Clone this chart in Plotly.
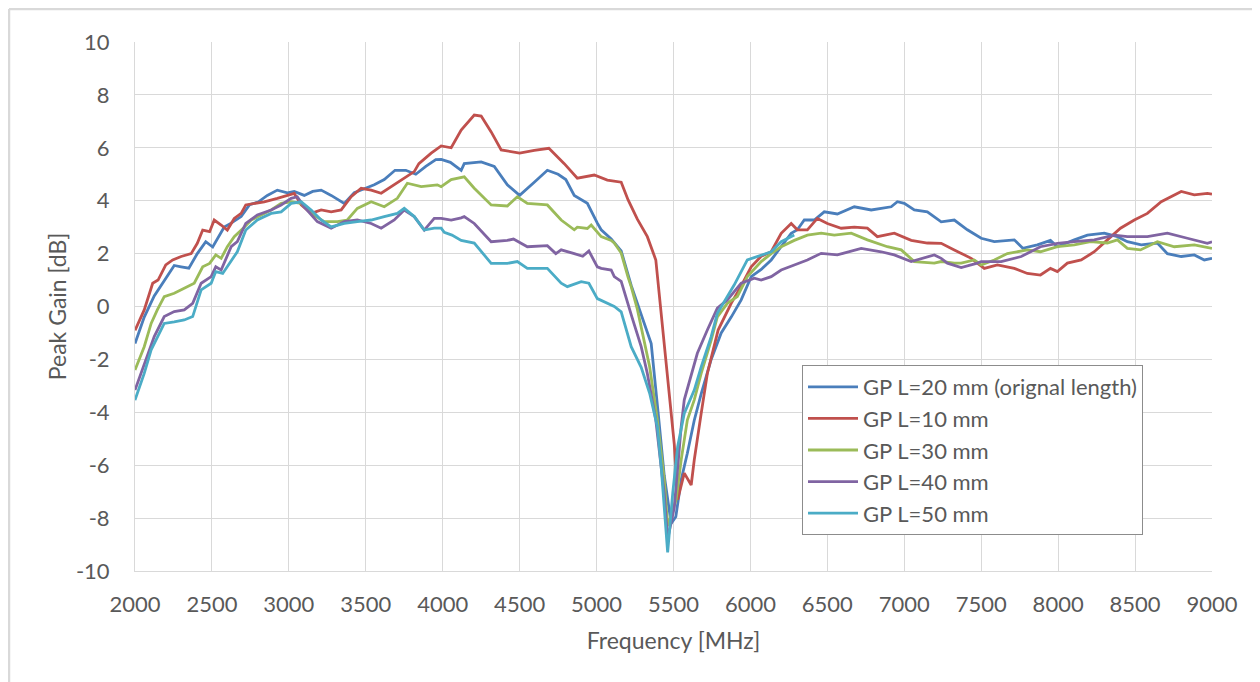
import plotly.graph_objects as go

# ---------------- data ----------------
f_20 = [2000, 2060, 2125, 2190, 2255, 2300, 2350, 2405, 2460, 2505, 2550, 2580, 2625, 2690, 2745, 2800, 2860, 2925, 2990, 3035,
        3100, 3155, 3210, 3275, 3360, 3425, 3490, 3555, 3620, 3690, 3760, 3825, 3890, 3955, 3990, 4050, 4120, 4140, 4250, 4335,
        4420, 4500, 4595, 4680, 4750, 4800, 4855, 4940, 5005, 5030, 5095, 5160, 5225, 5290, 5355, 5400, 5440, 5485, 5515, 5550,
        5590, 5635, 5680, 5745, 5810, 5875, 5940, 6005, 6070, 6135, 6200, 6265, 6305, 6350, 6415, 6480, 6565, 6675, 6785, 6915,
        6955, 7000, 7065, 7150, 7240, 7325, 7410, 7500, 7585, 7715, 7770, 7865, 7950, 7995, 8105, 8190, 8300, 8385, 8450, 8540,
        8645, 8710, 8800, 8885, 8950, 9000]
g_20 = [-1.4, -0.4, 0.4, 1.0, 1.55, 1.5, 1.45, 2.0, 2.45, 2.25, 2.7, 3.0, 3.15, 3.4, 3.85, 3.95, 4.2, 4.4, 4.3, 4.35,
        4.2, 4.35, 4.4, 4.2, 3.9, 4.3, 4.45, 4.6, 4.8, 5.15, 5.15, 5.0, 5.3, 5.55, 5.56, 5.45, 5.15, 5.4, 5.47, 5.3,
        4.6, 4.2, 4.7, 5.15, 5.0, 4.8, 4.2, 3.9, 3.15, 2.9, 2.55, 2.1, 0.8, -0.3, -1.4, -4.0, -6.4, -8.2, -7.95, -6.55,
        -5.55, -4.3, -3.3, -2.0, -1.0, -0.4, 0.25, 1.13, 1.4, 1.76, 2.26, 2.77, 2.9, 3.27, 3.27, 3.58, 3.5, 3.77, 3.65, 3.77,
        3.96, 3.9, 3.65, 3.58, 3.2, 3.27, 2.9, 2.58, 2.45, 2.52, 2.2, 2.33, 2.5, 2.26, 2.52, 2.7, 2.77, 2.64, 2.45, 2.33,
        2.4, 2.0, 1.89, 1.95, 1.76, 1.82]

f_10 = [2000, 2060, 2115, 2150, 2200, 2245, 2300, 2365, 2405, 2440, 2485, 2515, 2560, 2600, 2645, 2690, 2720, 2775, 2840, 2925,
        2990, 3035, 3080, 3145, 3210, 3275, 3340, 3405, 3470, 3535, 3600, 3685, 3750, 3815, 3845, 3925, 3990, 4055, 4120, 4205,
        4250, 4315, 4380, 4500, 4595, 4690, 4790, 4875, 4985, 5070, 5160, 5205, 5265, 5330, 5385, 5420, 5460, 5505, 5527, 5570,
        5615, 5635, 5680, 5720, 5790, 5830, 5875, 5940, 6005, 6070, 6135, 6200, 6265, 6305, 6370, 6435, 6500, 6590, 6675, 6760,
        6825, 6935, 7045, 7150, 7240, 7325, 7435, 7520, 7605, 7715, 7800, 7885, 7950, 7995, 8060, 8150, 8235, 8320, 8405, 8495,
        8580, 8670, 8755, 8800, 8885, 8970, 9000]
g_10 = [-0.9, -0.13, 0.88, 1.0, 1.57, 1.76, 1.89, 2.0, 2.39, 2.89, 2.83, 3.27, 3.08, 2.89, 3.33, 3.52, 3.84, 3.9, 3.96, 4.09,
        4.22, 4.28, 3.84, 3.52, 3.65, 3.58, 3.65, 4.15, 4.47, 4.4, 4.28, 4.6, 4.85, 5.1, 5.4, 5.8, 6.07, 6.0, 6.67, 7.24,
        7.2, 6.6, 5.92, 5.8, 5.9, 5.98, 5.4, 4.85, 4.97, 4.78, 4.7, 4.03, 3.3, 2.64, 1.76, -0.3, -2.5, -5.2, -7.3, -6.3,
        -6.75, -5.8, -4.04, -2.53, -0.89, -0.39, 0.12, 0.78, 1.5, 1.9, 2.07, 2.77, 3.14, 2.9, 2.9, 3.33, 3.14, 2.96, 3.0, 2.96,
        2.64, 2.77, 2.5, 2.4, 2.39, 2.14, 1.82, 1.44, 1.57, 1.44, 1.25, 1.19, 1.44, 1.32, 1.64, 1.76, 2.07, 2.52, 2.96, 3.27,
        3.52, 3.96, 4.22, 4.35, 4.22, 4.28, 4.25]

f_30 = [2000, 2060, 2105, 2145, 2190, 2255, 2320, 2385, 2440, 2485, 2525, 2560, 2600, 2645, 2710, 2755, 2820, 2885, 2950, 3015,
        3080, 3145, 3230, 3315, 3380, 3445, 3535, 3620, 3705, 3770, 3860, 3965, 3990, 4055, 4140, 4205, 4315, 4420, 4485, 4550,
        4680, 4745, 4770, 4855, 4875, 4940, 4965, 5030, 5095, 5115, 5160, 5205, 5225, 5265, 5290, 5345, 5395, 5440, 5462, 5517,
        5550, 5590, 5635, 5680, 5745, 5785, 5850, 5915, 5980, 6070, 6135, 6200, 6285, 6370, 6460, 6545, 6655, 6760, 6890, 6980,
        7065, 7195, 7240, 7325, 7370, 7455, 7500, 7585, 7670, 7800, 7885, 7995, 8105, 8210, 8320, 8385, 8450, 8535, 8645, 8755,
        8885, 9000]
g_30 = [-2.4, -1.52, -0.64, -0.13, 0.37, 0.5, 0.69, 0.88, 1.5, 1.63, 1.95, 1.82, 2.26, 2.64, 3.0, 3.27, 3.46, 3.65, 3.9, 3.96,
        3.9, 3.52, 3.21, 3.21, 3.27, 3.71, 3.96, 3.77, 4.09, 4.66, 4.53, 4.6, 4.53, 4.8, 4.9, 4.47, 3.84, 3.8, 4.15, 3.9,
        3.84, 3.4, 3.27, 2.9, 3.0, 2.95, 3.08, 2.64, 2.5, 2.4, 2.02, 1.1, 0.75, -0.1, -0.76, -2.28, -4.29, -6.56, -8.3, -7.3,
        -5.8, -4.29, -3.53, -2.53, -1.27, -0.39, 0.12, 0.38, 1.13, 1.7, 2.0, 2.26, 2.5, 2.7, 2.77, 2.7, 2.77, 2.52, 2.26, 2.14,
        1.7, 1.64, 1.7, 1.64, 1.64, 1.76, 1.57, 1.76, 2.0, 2.14, 2.07, 2.26, 2.33, 2.45, 2.4, 2.52, 2.2, 2.14, 2.45, 2.26,
        2.33, 2.2]

f_40 = [2000, 2060, 2125, 2190, 2255, 2320, 2375, 2430, 2495, 2525, 2560, 2625, 2665, 2720, 2795, 2885, 2950, 3015, 3055, 3100,
        3185, 3275, 3360, 3445, 3535, 3600, 3685, 3750, 3815, 3880, 3945, 3990, 4055, 4120, 4140, 4205, 4315, 4420, 4460, 4550,
        4680, 4735, 4770, 4855, 4910, 4950, 5005, 5030, 5095, 5115, 5160, 5230, 5290, 5330, 5385, 5440, 5462, 5505, 5550, 5570,
        5615, 5655, 5720, 5785, 5850, 5940, 6025, 6070, 6135, 6200, 6285, 6370, 6460, 6565, 6720, 6850, 6935, 7045, 7195, 7240,
        7280, 7370, 7475, 7500, 7630, 7760, 7885, 7995, 8105, 8235, 8365, 8450, 8580, 8710, 8840, 8970, 9000]
g_40 = [-3.16, -2.15, -1.14, -0.38, -0.19, -0.13, 0.12, 0.88, 1.13, 1.5, 1.38, 2.26, 2.45, 3.14, 3.46, 3.65, 3.84, 4.09, 4.15, 3.77,
        3.21, 2.96, 3.21, 3.27, 3.14, 2.96, 3.27, 3.65, 3.4, 2.89, 3.33, 3.33, 3.27, 3.35, 3.4, 3.14, 2.45, 2.5, 2.55, 2.26,
        2.3, 2.0, 2.14, 2.0, 1.9, 2.1, 1.5, 1.44, 1.38, 1.13, 0.95, -0.4, -1.52, -2.53, -4.29, -7.1, -8.8, -7.6, -4.54, -3.53,
        -2.65, -1.77, -0.89, -0.06, 0.25, 0.88, 1.07, 1.0, 1.13, 1.38, 1.57, 1.76, 2.01, 1.95, 2.2, 2.07, 1.95, 1.7, 1.95, 1.82,
        1.64, 1.47, 1.64, 1.7, 1.7, 1.89, 2.26, 2.39, 2.45, 2.52, 2.7, 2.64, 2.64, 2.77, 2.58, 2.39, 2.45]

f_50 = [2000, 2060, 2105, 2190, 2255, 2320, 2375, 2430, 2495, 2525, 2570, 2625, 2665, 2720, 2795, 2885, 2950, 3015, 3080, 3145,
        3210, 3275, 3360, 3445, 3535, 3620, 3705, 3750, 3815, 3880, 3945, 3990, 4010, 4060, 4120, 4205, 4315, 4420, 4485, 4550,
        4680, 4770, 4810, 4900, 4950, 5005, 5095, 5115, 5160, 5225, 5290, 5345, 5395, 5420, 5462, 5495, 5527, 5570, 5635, 5680,
        5745, 5785, 5850, 5895, 5980, 6070, 6135, 6200, 6285]
g_50 = [-3.54, -2.53, -1.64, -0.64, -0.58, -0.51, -0.38, 0.63, 0.88, 1.32, 1.25, 1.7, 2.07, 2.89, 3.27, 3.52, 3.58, 3.9, 3.96, 3.65,
        3.27, 3.01, 3.14, 3.21, 3.27, 3.4, 3.52, 3.71, 3.4, 2.89, 2.96, 2.96, 2.8, 2.7, 2.5, 2.4, 1.63, 1.63, 1.7, 1.44,
        1.44, 0.88, 0.75, 0.94, 0.88, 0.3, 0.06, 0.0, -0.2, -1.52, -2.3, -3.28, -4.54, -6.06, -9.3, -7.06, -5.3, -4.04, -3.16, -2.28,
        -1.14, -0.26, 0.38, 0.82, 1.76, 1.95, 2.07, 2.45, 2.7]

series_names = ["GP L=20 mm (orignal length)", "GP L=10 mm", "GP L=30 mm", "GP L=40 mm", "GP L=50 mm"]
series_freqs = [f_20, f_10, f_30, f_40, f_50]
series_gains = [g_20, g_10, g_30, g_40, g_50]
series_colors = ["#4A7EBB", "#C0504D", "#9BBB59", "#8064A2", "#4BACC6"]

x_ticks = list(range(2000, 9001, 500))
y_ticks = list(range(-10, 11, 2))

# ---------------- figure ----------------
FONT = "Lato, 'Open Sans', sans-serif"
TXT = "#595959"

fig = go.Figure()
for i, (name, fx, gy, col) in enumerate(zip(series_names, series_freqs, series_gains, series_colors)):
    fig.add_trace(go.Scatter(x=fx, y=gy, mode="lines", name=name,
                             line=dict(color=col, width=2.8), legendgroup=f"g{i}"))

# page is rendered with a small offset; margins compensate so the plot area lands at
# x 134..1211, y 42..571 on screen
OX, OY = 7, 8
L, R, T, B = 134 - OX, 49 + OX, 42 - OY, 111 + OY
PW, PH = 1260 - L - R, 682 - T - B

def px_x(p):
    return (p - OX - L) / PW

def px_y(p):
    return (682 - B - (p - OY)) / PH

def lay_x(lx):
    return (lx - L) / PW

def lay_y(ly):
    return (682 - B - ly) / PH

fig.update_layout(
    width=1260, height=682,
    margin=dict(l=L, r=R, t=T, b=B),
    paper_bgcolor="white", plot_bgcolor="white",
    font=dict(family=FONT, color=TXT, size=22),
    showlegend=True,
    legend=dict(x=px_x(801), y=px_y(365), xanchor="left", yanchor="top",
                bgcolor="white", bordercolor="#8C8C8C", borderwidth=1,
                font=dict(size=22, color=TXT), tracegroupgap=0,
                itemwidth=50),
    shapes=[
        dict(type="line", xref="paper", yref="paper",
             x0=lay_x(1), x1=lay_x(1), y0=lay_y(1), y1=lay_y(700),
             line=dict(color="#D9D9D9", width=2.5), layer="below"),
        dict(type="line", xref="paper", yref="paper",
             x0=lay_x(1), x1=lay_x(1300), y0=lay_y(1), y1=lay_y(1),
             line=dict(color="#D9D9D9", width=2.5), layer="below"),
    ],
)

fig.update_xaxes(range=[2000, 9000], tickvals=x_ticks, ticktext=[str(v) for v in x_ticks],
                 showgrid=True, gridcolor="#D9D9D9", gridwidth=1,
                 showline=True, linecolor="#D9D9D9", linewidth=1, zeroline=False,
                 ticks="", tickfont=dict(size=22, color=TXT), ticklabelstandoff=14,
                 title=dict(text="Frequency [MHz]", font=dict(size=23, color=TXT), standoff=16))
fig.update_yaxes(range=[-10, 10], tickvals=y_ticks, ticktext=[str(v) for v in y_ticks],
                 showgrid=True, gridcolor="#D9D9D9", gridwidth=1,
                 showline=True, linecolor="#D9D9D9", linewidth=1, zeroline=False,
                 ticks="", tickfont=dict(size=22, color=TXT), ticklabelstandoff=20,
                 title=dict(text="Peak Gain [dB]", font=dict(size=23, color=TXT), standoff=2))

fig.write_html("out.html")
